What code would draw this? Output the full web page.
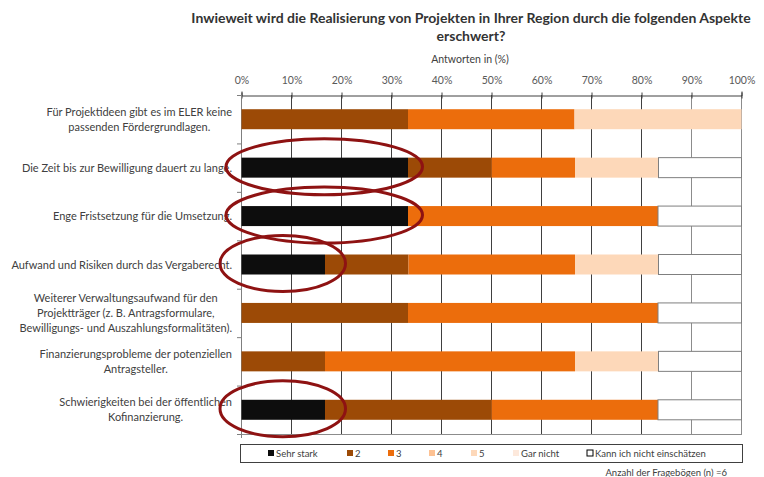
<!DOCTYPE html>
<html>
<head>
<meta charset="utf-8">
<script src="https://cdn.jsdelivr.net/npm/d3@7"></script>
<style>
  body { margin: 0; background: #fff; }
  svg { font-family: Lato, "Open Sans", sans-serif; }
</style>
</head>
<body>
<div id="graph"></div>
<script>
const width = 764;
const height = 477;
const margin = { top: 95, left: 241, right: 23, bottom: 43 };

// Category labels (lines as Excel wrapped them)
const categories = [
  ["Für Projektideen gibt es im ELER  keine", "passenden Fördergrundlagen."],
  ["Die Zeit bis zur Bewilligung dauert zu lange."],
  ["Enge Fristsetzung für die Umsetzung."],
  ["Aufwand und Risiken durch das Vergaberecht."],
  ["Weiterer Verwaltungsaufwand für den", "Projektträger (z. B. Antragsformulare,", "Bewilligungs-  und Auszahlungsformalitäten)."],
  ["Finanzierungsprobleme der potenziellen", "Antragsteller."],
  ["Schwierigkeiten bei der öffentlichen", "Kofinanzierung."],
];
const seriesNames = ["Sehr stark", "2", "3", "4", "5", "Gar nicht", "Kann ich nicht einschätzen"];
const seriesColors = ["#0d0d0d", "#9c4a06", "#ec6d0c", "#fdc192", "#fdd8b9", "#fde9dc", "#ffffff"];

// Shares in %, n = 6
const sehrStark = [0, 33.3, 33.3, 16.7, 0, 0, 16.7];
const stufe2 = [33.3, 16.7, 0, 16.7, 33.3, 16.7, 33.3];
const stufe3 = [33.3, 16.7, 50, 33.3, 50, 50, 33.3];
const stufe4 = [0, 0, 0, 0, 0, 0, 0];
const stufe5 = [33.4, 16.7, 0, 16.7, 0, 16.7, 0];
const garNicht = [0, 0, 0, 0, 0, 0, 0];
const kannNicht = [0, 16.6, 16.7, 16.6, 16.7, 16.6, 16.7];
const xTicks = [0, 10, 20, 30, 40, 50, 60, 70, 80, 90, 100];

const seriesValues = [sehrStark, stufe2, stufe3, stufe4, stufe5, garNicht, kannNicht];
const rows = categories.map((c, i) => {
  const row = { idx: i };
  seriesNames.forEach((s, j) => (row[s] = seriesValues[j][i]));
  return row;
});

const svg = d3
  .select("#graph")
  .append("svg")
  .attr("width", width)
  .attr("height", height);

// Title
svg
  .append("text")
  .attr("x", 471)
  .attr("y", 23)
  .attr("text-anchor", "middle")
  .attr("font-size", 14)
  .attr("font-weight", "bold")
  .attr("fill", "#333")
  .selectAll("tspan")
  .data(["Inwieweit wird die Realisierung von Projekten in Ihrer Region durch die folgenden Aspekte", "erschwert?"])
  .enter()
  .append("tspan")
  .attr("x", 471)
  .attr("dy", (d, i) => (i ? 18 : 0))
  .text((d) => d);

svg
  .append("text")
  .attr("x", 470)
  .attr("y", 63)
  .attr("text-anchor", "middle")
  .attr("font-size", 10.5)
  .attr("fill", "#404040")
  .text("Antworten in (%)");

// Scales
const xScale = d3
  .scaleLinear()
  .domain([0, 100])
  .range([margin.left, width - margin.right]);
const yScale = d3
  .scaleBand()
  .domain(d3.range(categories.length))
  .range([margin.top, height - margin.bottom]);
const barH = 20;

// Gridlines
svg
  .append("g")
  .selectAll("line")
  .data(xTicks)
  .enter()
  .append("line")
  .attr("x1", (d) => xScale(d) + 0.5)
  .attr("x2", (d) => xScale(d) + 0.5)
  .attr("y1", margin.top)
  .attr("y2", height - margin.bottom)
  .attr("stroke", (d) => (d >= 90 ? "#8c8c8c" : "#404040"))
  .attr("stroke-width", 1);

svg
  .append("line")
  .attr("x1", margin.left)
  .attr("x2", width - margin.right + 1)
  .attr("y1", height - margin.bottom + 0.5)
  .attr("y2", height - margin.bottom + 0.5)
  .attr("stroke", "#8c8c8c");

// Top axis
const xAxis = d3
  .axisTop(xScale)
  .tickValues(xTicks)
  .tickFormat((d) => d + "%")
  .tickSize(4)
  .tickPadding(8);
const xAxisG = svg
  .append("g")
  .attr("transform", `translate(0.5, ${margin.top + 0.5})`)
  .call(xAxis);
xAxisG.select(".domain").attr("stroke", "#404040");
xAxisG.selectAll(".tick line").attr("stroke", "#404040").attr("y2", 3).attr("y1", -3);
xAxisG.selectAll("text").attr("font-size", 10.5).attr("fill", "#595959").attr("font-family", "Lato, sans-serif");

// Left axis line with band ticks
svg
  .append("line")
  .attr("x1", margin.left + 0.5)
  .attr("x2", margin.left + 0.5)
  .attr("y1", margin.top)
  .attr("y2", height - margin.bottom + 4)
  .attr("stroke", "#7f7f7f");
svg
  .append("g")
  .selectAll("line")
  .data(d3.range(categories.length + 1))
  .enter()
  .append("line")
  .attr("x1", margin.left - 4)
  .attr("x2", margin.left)
  .attr("y1", (d) => margin.top + d * yScale.step() + 0.5)
  .attr("y2", (d) => margin.top + d * yScale.step() + 0.5)
  .attr("stroke", "#7f7f7f");

// Stacked bars
const stacked = d3.stack().keys(seriesNames)(rows);
svg
  .append("g")
  .selectAll("g")
  .data(stacked)
  .enter()
  .append("g")
  .attr("fill", (d, i) => seriesColors[i])
  .attr("stroke", (d, i) => (i === seriesNames.length - 1 ? "#7f7f7f" : "none"))
  .selectAll("rect")
  .data((d) => d.filter((p) => p[1] - p[0] > 0))
  .enter()
  .append("rect")
  .attr("x", (d) => xScale(d[0]) + 0.5)
  .attr("y", (d) => yScale(d.data.idx) + (yScale.bandwidth() - barH) / 2)
  .attr("width", (d) => xScale(d[1]) - xScale(d[0]))
  .attr("height", barH);

// Category labels: block right aligned, lines centred within
const labelRight = 232;
const lineH = 15;
categories.forEach((lines, i) => {
  const cy = yScale(i) + yScale.bandwidth() / 2;
  const t = svg
    .append("text")
    .attr("font-size", 11)
    .attr("fill", "#404040")
    .attr("text-anchor", "middle");
  const spans = t
    .selectAll("tspan")
    .data(lines)
    .enter()
    .append("tspan")
    .attr("y", (d, k) => cy + 4 + (k - (lines.length - 1) / 2) * lineH)
    .text((d) => d);
  let maxW = 0;
  spans.each(function () {
    maxW = Math.max(maxW, this.getComputedTextLength());
  });
  spans.attr("x", labelRight - maxW / 2);
});

// Red ellipses round the "Sehr stark" segments
svg
  .append("g")
  .selectAll("ellipse")
  .data(rows.filter((r) => r["Sehr stark"] > 0))
  .enter()
  .append("ellipse")
  .attr("cx", (d) => (xScale(0) + xScale(d["Sehr stark"])) / 2)
  .attr("cy", (d) => yScale(d.idx) + yScale.bandwidth() / 2 - 1)
  .attr("rx", (d) => (xScale(d["Sehr stark"]) - xScale(0)) / 2 + (d["Sehr stark"] > 20 ? 15 : 21))
  .attr("ry", 28)
  .attr("fill", "none")
  .attr("stroke", "#8e1212")
  .attr("stroke-width", 3);

// Legend
const legend = svg.append("g");
legend
  .append("rect")
  .attr("x", 240.5)
  .attr("y", 444.5)
  .attr("width", 502)
  .attr("height", 18)
  .attr("fill", "#fff")
  .attr("stroke", "#404040");
const legendX = [268, 347, 388, 429, 471, 513, 587];
const items = legend
  .selectAll("g.item")
  .data(seriesNames)
  .enter()
  .append("g")
  .attr("class", "item")
  .attr("transform", (d, i) => `translate(${legendX[i]}, 450)`);
items
  .append("rect")
  .attr("width", 6)
  .attr("height", 6)
  .attr("fill", (d, i) => seriesColors[i])
  .attr("stroke", (d, i) => (i === seriesNames.length - 1 ? "#000" : "none"));
items
  .append("text")
  .attr("x", 8)
  .attr("y", 7)
  .attr("font-size", 9.5)
  .attr("fill", "#404040")
  .text((d) => d);

svg
  .append("text")
  .attr("x", 727)
  .attr("y", 476)
  .attr("text-anchor", "end")
  .attr("font-size", 9.5)
  .attr("fill", "#404040")
  .text("Anzahl der Fragebögen (n) =6");
</script>
</body>
</html>
